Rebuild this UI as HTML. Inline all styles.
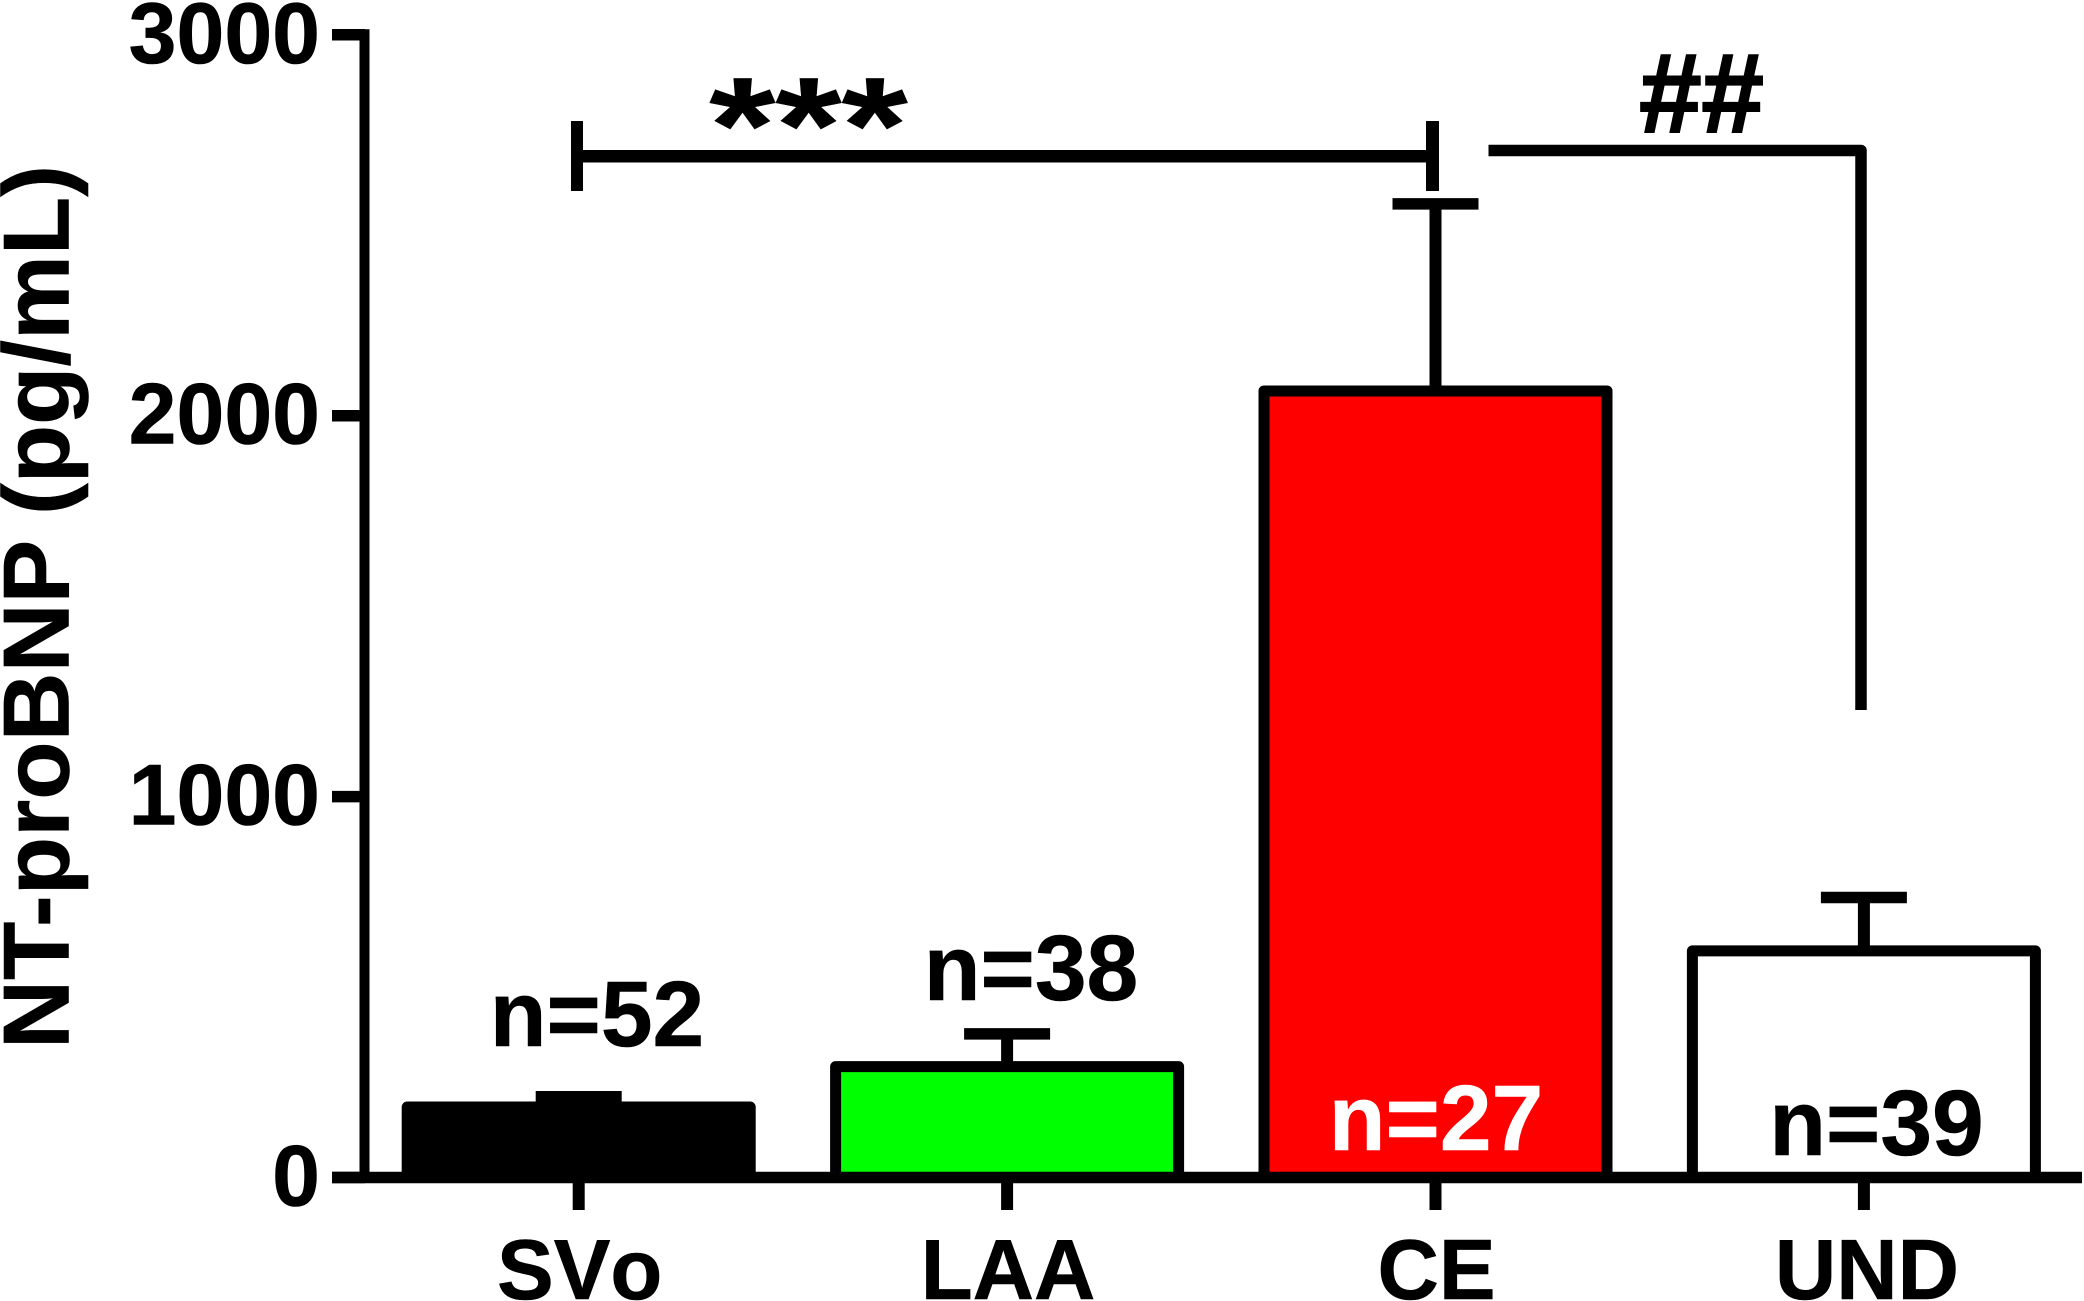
<!DOCTYPE html>
<html lang="en">
<head>
<meta charset="utf-8">
<title>NT-proBNP by stroke subtype</title>
<style>
html,body{margin:0;padding:0;background:#fff;width:2084px;height:1301px;overflow:hidden}
svg{display:block}
text{font-family:"Liberation Sans",Arial,sans-serif;font-weight:700;fill:#000;stroke:#000;stroke-width:0.6px}
</style>
</head>
<body>
<svg id="chart" xmlns="http://www.w3.org/2000/svg" width="2084" height="1301" viewBox="0 0 2084 1301">
  <rect x="0" y="0" width="2084" height="1301" fill="#fff"/>
  <g id="errors"></g>
  <g id="bars"></g>
  <g id="axes"></g>

  <text transform="translate(68.5,1049) rotate(-90)" font-size="94" textLength="884" lengthAdjust="spacingAndGlyphs">NT-proBNP (pg/mL)</text>

  <text x="597" y="1046" font-size="93" text-anchor="middle">n=52</text>
  <text x="1031" y="1000" font-size="93" text-anchor="middle">n=38</text>
  <text x="1436" y="1150" font-size="93" text-anchor="middle" style="fill:#fff;stroke:#fff">n=27</text>
  <text x="1876.5" y="1155" font-size="93" text-anchor="middle">n=39</text>

  <g>
    <rect x="571" y="121" width="12" height="70" fill="#000"/>
    <rect x="577" y="150" width="855" height="12.5" fill="#000"/>
    <rect x="1426" y="121" width="13" height="70" fill="#000"/>
    <text transform="translate(808.5,172) scale(1,0.8)" font-size="170" text-anchor="middle">***</text>
  </g>
  <g>
    <path d="M1488.5 150.5H1861V710" fill="none" stroke="#000" stroke-width="11.5" stroke-linejoin="round"/>
    <text x="1701.5" y="132" font-size="112" text-anchor="middle" style="stroke-width:2px">##</text>
  </g>
</svg>
<script>
const categories = ['SVo', 'LAA', 'CE', 'UND'];
const means = [185, 291, 2065, 595];
const errorTops = [212, 377, 2556, 735];
const fills = ['#000000', '#00ff00', '#ff0000', '#ffffff'];
const yTickValues = [0, 1000, 2000, 3000];

const SVG_NS = 'http://www.w3.org/2000/svg';
const y = v => 1177.5 - v * 0.3809;
const x = i => 578.7 + i * 428.4;
const barOuterWidth = 354;
const stroke = 11;

function mk(tag, attrs, parent) {
  const el = document.createElementNS(SVG_NS, tag);
  for (const k in attrs) el.setAttribute(k, attrs[k]);
  parent.appendChild(el);
  return el;
}

const errorsG = document.getElementById('errors');
const barsG = document.getElementById('bars');
const axesG = document.getElementById('axes');

categories.forEach((cat, i) => {
  const key = cat.toLowerCase();
  const cx = x(i);

  const stem = mk('line', {x1: cx, x2: cx, y1: y(errorTops[i]), y2: y(means[i]), stroke: '#000', 'stroke-width': 12}, errorsG);
  
  

  const cap = mk('line', {x1: cx - 43, x2: cx + 43, y1: y(errorTops[i]), y2: y(errorTops[i]), stroke: '#000', 'stroke-width': 11.5}, errorsG);
  
  

  const bar = mk('rect', {
    x: cx - barOuterWidth / 2 + stroke / 2,
    y: y(means[i]),
    width: barOuterWidth - stroke,
    height: y(0) - y(means[i]),
    fill: fills[i],
    stroke: '#000',
    'stroke-width': stroke,
    'stroke-linejoin': 'round'
  }, barsG);
  
  

  const tick = mk('line', {x1: cx, x2: cx, y1: y(0), y2: 1210, stroke: '#000', 'stroke-width': 12}, axesG);
  
  

  const label = mk('text', {x: cx + (i === 3 ? 3 : 1), y: 1299, 'font-size': 85, 'text-anchor': 'middle'}, axesG);
  label.textContent = cat;
  label.style.fontKerning = i === 0 ? 'none' : 'normal';
  
  
});

const yAxis = mk('line', {x1: 364.5, x2: 364.5, y1: y(3000) - 5.5, y2: y(0), stroke: '#000', 'stroke-width': 10}, axesG);



const xAxis = mk('line', {x1: 332, x2: 2082, y1: y(0), y2: y(0), stroke: '#000', 'stroke-width': 11.6}, axesG);



yTickValues.forEach(v => {
  const tick = mk('line', {x1: 332, x2: 365, y1: y(v), y2: y(v), stroke: '#000', 'stroke-width': 11.5}, axesG);
  
  

  const label = mk('text', {x: 320, y: y(v) + 28, 'font-size': 86, 'text-anchor': 'end'}, axesG);
  label.textContent = String(v);
  
  
});
</script>
</body>
</html>
